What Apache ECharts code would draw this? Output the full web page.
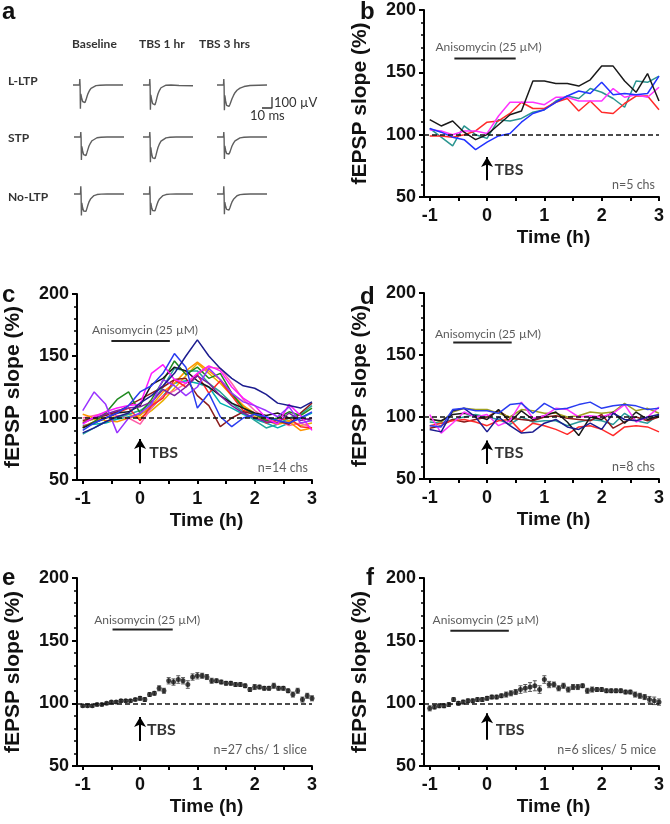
<!DOCTYPE html>
<html>
<head>
<meta charset="utf-8">
<script src="https://cdn.jsdelivr.net/npm/echarts@6/dist/echarts.min.js"></script>
<style>
  html, body { margin: 0; padding: 0; background: #fff; }
  #chart { width: 670px; height: 824px; }
</style>
</head>
<body>
<div id="chart"></div>
<script>
// ---- sampling grids ----
const T_20 = [-1, -0.8, -0.6, -0.4, -0.2, 0, 0.2, 0.4, 0.6, 0.8, 1, 1.2, 1.4, 1.6, 1.8, 2, 2.2, 2.4, 2.6, 2.8, 3];
const T_5MIN = [-60, -55, -50, -45, -40, -35, -30, -25, -20, -15, -10, -5, 0, 5, 10, 15, 20, 25, 30, 35, 40, 45, 50, 55, 60,
  65, 70, 75, 80, 85, 90, 95, 100, 105, 110, 115, 120, 125, 130, 135, 140, 145, 150, 155, 160, 165, 170, 175, 180];
const X_LABELS = [-1, 0, 1, 2, 3];
const X_TICKS = [-1, -0.5, 0, 0.5, 1, 1.5, 2, 2.5, 3];

// ---- panel a: example traces, [ms, uV] ----
const TR_LLTP_BASE = [[0,0],[6.5,0],[6.8,55],[7.1,-10],[7.4,-215],[7.8,-80],[8.6,-115],[9.6,-150],[10.8,-166],[12,-160],[13,-135],[14,-105],[15,-78],[16.5,-50],[18,-30],[20,-15],[23,-6],[27,-2],[33,0],[50,0]];
const TR_LLTP_1H = [[0,0],[6.5,0],[6.8,55],[7.1,-10],[7.4,-225],[7.8,-90],[8.6,-130],[9.6,-170],[10.8,-188],[12,-180],[13,-150],[14,-112],[15,-80],[16.5,-48],[18,-25],[20,-10],[23,-2],[28,0],[36,-5],[50,-7]];
const TR_LLTP_3H = [[0,0],[6.5,0],[6.8,55],[7.1,-10],[7.4,-230],[7.8,-95],[8.6,-145],[9.6,-185],[10.8,-200],[12,-195],[13,-175],[14,-150],[15,-125],[16.5,-95],[18,-70],[20,-48],[23,-28],[27,-14],[33,-4],[50,0]];
const TR_STP_BASE = [[0,0],[6.5,0],[6.8,45],[7.1,-10],[7.4,-210],[7.8,-85],[8.6,-125],[9.6,-160],[10.8,-176],[12,-168],[13,-140],[14,-110],[15,-82],[16.5,-55],[18,-34],[20,-18],[23,-7],[27,-2],[33,0],[50,0]];
const TR_STP_1H = [[0,0],[6.5,0],[6.8,45],[7.1,-10],[7.4,-230],[7.8,-95],[8.6,-150],[9.6,-190],[10.8,-205],[12,-195],[13,-165],[14,-128],[15,-95],[16.5,-62],[18,-38],[20,-20],[23,-8],[27,-2],[33,0],[50,0]];
const TR_STP_3H = [[0,0],[6.5,0],[6.8,45],[7.1,-10],[7.4,-200],[7.8,-80],[8.6,-120],[9.6,-150],[10.8,-160],[12,-155],[13,-135],[14,-108],[15,-82],[16.5,-56],[18,-36],[20,-20],[23,-8],[27,-2],[33,0],[50,0]];
const TR_NOLTP_BASE = [[0,0],[6.5,0],[6.8,70],[7.1,-10],[7.4,-195],[7.8,-80],[8.6,-125],[9.6,-155],[10.8,-167],[12,-158],[13,-128],[14,-98],[15,-72],[16.5,-46],[18,-28],[20,-14],[23,-5],[27,-1],[33,0],[50,0]];
const TR_NOLTP_1H = [[0,0],[6.5,0],[6.8,70],[7.1,-10],[7.4,-190],[7.8,-80],[8.6,-120],[9.6,-150],[10.8,-160],[12,-152],[13,-124],[14,-96],[15,-70],[16.5,-45],[18,-27],[20,-14],[23,-5],[27,-1],[33,0],[50,0]];
const TR_NOLTP_3H = [[0,0],[6.5,0],[6.8,70],[7.1,-10],[7.4,-185],[7.8,-75],[8.6,-112],[9.6,-140],[10.8,-150],[12,-145],[13,-122],[14,-96],[15,-72],[16.5,-48],[18,-30],[20,-16],[23,-6],[27,-2],[33,0],[50,0]];
const SCALE_BAR = [[0, 0], [10, 0], [10, 100]];

// ---- panel b: 5 channels ----
const B_BLACK   = [112,107,111,102,96,100,108,116,119,143,143,141,141,139,144,155,155,143,134,149,127];
const B_RED     = [99,99,98,100,103,110,111,117,126,121,121,126,129,119,127,118,117,125,131,131,120];
const B_BLUE    = [105,102,98,96,88,94,99,101,110,117,120,126,131,135,133,142,132,133,132,133,147];
const B_TEAL    = [105,98,91,107,100,97,112,111,113,118,120,127,131,129,137,134,129,122,143,142,147];
const B_MAGENTA = [104,103,100,103,103,101,115,126,126,126,124,130,130,127,127,127,137,130,132,130,138];

// ---- panel c: 14 channels ----
const C_NAVY   = [88,92,97,101,104,112,118,126,136,150,163,150,140,132,126,124,119,112,110,108,113];
const C_BLUE   = [90,96,100,104,110,121,126,136,152,141,108,120,101,93,100,103,101,98,96,100,105];
const C_VIOLET = [106,121,111,88,100,104,111,131,126,118,125,140,131,120,113,110,106,101,109,96,98];
const C_MAG    = [95,101,105,108,110,111,136,143,131,128,136,142,138,125,116,110,100,95,111,102,90];
const C_RED    = [93,97,100,104,108,98,110,116,131,125,135,120,130,118,106,104,96,98,100,93,92];
const C_ORANGE = [103,100,98,97,100,102,110,121,128,138,145,138,131,120,110,101,98,95,97,90,92];
const C_GREEN  = [92,97,104,115,121,104,115,130,146,135,141,132,136,120,108,103,98,100,105,102,108];
const C_TEAL   = [87,92,97,100,103,106,112,125,140,138,138,128,121,112,105,98,92,95,100,103,110];
const C_BLACK  = [92,96,100,104,105,110,127,132,141,138,130,125,118,112,108,104,102,104,100,100,98];
const C_BROWN  = [98,100,102,105,110,115,120,125,131,132,118,110,93,100,105,103,100,98,95,104,112];
const C_PINK   = [100,102,104,102,100,95,108,118,122,128,135,141,140,128,115,106,100,98,94,96,92];
const C_GOLD   = [97,99,100,101,103,100,106,114,124,134,144,136,128,118,110,104,99,96,98,94,96];
const C_CYAN   = [94,95,96,99,101,103,108,118,128,130,128,125,112,108,103,99,96,92,96,100,104];
const C_PURPLE = [96,100,103,106,108,109,113,123,118,125,134,128,118,110,104,100,97,96,104,98,100];

// ---- panel d: 8 channels ----
const D_BLUE    = [93,92,106,107,105,105,103,110,111,103,111,106,107,110,112,107,109,110,109,106,107];
const D_NAVY    = [90,88,105,107,100,88,100,93,87,88,95,98,92,90,95,90,103,98,97,100,102];
const D_RED     = [93,95,97,98,96,93,97,98,88,95,93,90,86,92,93,90,85,92,93,92,88];
const D_MAGENTA = [102,87,95,104,100,102,93,97,112,99,101,107,106,100,101,100,103,110,96,100,108];
const D_OLIVE   = [99,96,104,107,106,106,103,100,106,105,103,103,100,101,104,103,104,111,105,107,103];
const D_BLACK   = [98,97,102,103,101,98,106,96,105,98,101,104,96,85,100,98,104,95,104,98,101];
const D_TEAL    = [96,95,98,100,102,100,98,94,100,96,97,97,93,96,98,97,94,103,97,95,102];
const D_BROWN   = [91,93,98,96,98,100,105,99,98,97,100,101,99,98,97,102,91,96,100,97,100];

// ---- panels e, f: mean and SEM every 5 min ----
const E_MEAN = [98,98,98,99,99,100,101,101,102,102,102,103,104,103,107,108,112,110,118,117,119,118,115,121,122,122,121,118,118,117,116,116,115,115,114,111,113,113,112,112,114,112,112,110,107,110,103,106,104];
const E_SEM  = [1,1,1,1,1,1,1,1,1,1,1,1,1.5,1.5,1.5,1.5,2,2,2.5,2.5,3,2.5,3,2.5,2.5,2,2,2,1.5,1.5,1.5,1.5,1.5,1.5,1.5,1.5,2,1.5,1.5,1.5,2,1.5,1.5,1.5,2,2,2,2,2];
const F_MEAN = [96,97,98,98,99,103,100,101,102,102,103,103,104,105,105,106,107,108,109,111,112,113,114,111,119,115,115,112,114,111,113,113,114,110,111,111,111,110,110,110,110,109,109,107,106,105,103,102,101];
const F_SEM  = [2,1.5,1.5,1.5,1.5,1.5,1.5,1.5,1.5,1.5,1.5,1.5,1.5,1.5,1.5,1.5,2,2,2,3,3,3.5,4,3,3,2.5,2,2,2,2,2,2,1.5,2,2,1.5,1.5,1.5,1.5,1.5,1.5,1.5,1.5,2,2,2,2.5,3,2.5];

const SANS = 'Liberation Sans, Arial, sans-serif';
const SOFT = 'Lato, Open Sans, sans-serif';

const option = { animation: false, grid: [], xAxis: [], yAxis: [], series: [], graphic: [] };

// panel a traces: one small hidden grid per trace
const traces = [
  { data: TR_LLTP_BASE, left: 73, top: 74 }, { data: TR_LLTP_1H, left: 143, top: 74 }, { data: TR_LLTP_3H, left: 217, top: 74 },
  { data: TR_STP_BASE, left: 74, top: 126 }, { data: TR_STP_1H, left: 143, top: 126 }, { data: TR_STP_3H, left: 217, top: 126 },
  { data: TR_NOLTP_BASE, left: 74, top: 183 }, { data: TR_NOLTP_1H, left: 143, top: 183 }, { data: TR_NOLTP_3H, left: 217, top: 183 }
];
traces.forEach(tr => {
  const gi = option.grid.length;
  option.grid.push({ left: tr.left, top: tr.top, width: 50, height: 44 });
  option.xAxis.push({ type: 'value', gridIndex: gi, min: 0, max: 50, show: false });
  option.yAxis.push({ type: 'value', gridIndex: gi, min: -300, max: 100, show: false });
  option.series.push({ type: 'line', xAxisIndex: gi, yAxisIndex: gi, data: tr.data, showSymbol: false, silent: true,
    lineStyle: { color: '#5e5e5e', width: 1.4 } });
});
// scale bar (10 ms / 100 uV)
(function () {
  const gi = option.grid.length;
  option.grid.push({ left: 262, top: 97, width: 10, height: 11 });
  option.xAxis.push({ type: 'value', gridIndex: gi, min: 0, max: 10, show: false });
  option.yAxis.push({ type: 'value', gridIndex: gi, min: 0, max: 100, show: false });
  option.series.push({ type: 'line', xAxisIndex: gi, yAxisIndex: gi, data: SCALE_BAR, showSymbol: false, silent: true,
    clip: false, lineStyle: { color: '#333', width: 1.3 } });
})();

function addPanel(p) {
  const gi = option.grid.length;
  option.grid.push({ left: p.left, top: p.top, width: 235, height: p.height });
  const xi = option.xAxis.length;
  option.xAxis.push({
    type: 'value', gridIndex: gi, min: -1.1, max: 3, position: 'bottom',
    name: 'Time (h)', nameLocation: 'middle', nameGap: 31,
    nameTextStyle: { fontFamily: SANS, fontSize: 19, fontWeight: 'bold', color: '#111', padding: [0, 0, 0, 24] },
    axisLine: { onZero: false, lineStyle: { color: '#000', width: 2 } },
    axisTick: { customValues: X_TICKS, length: 4, lineStyle: { color: '#000', width: 2 } },
    axisLabel: { customValues: X_LABELS, margin: 10, fontFamily: SANS, fontSize: 18, fontWeight: 'bold', color: '#111' },
    splitLine: { show: false }
  });
  const yi = option.yAxis.length;
  option.yAxis.push({
    type: 'value', gridIndex: gi, min: 50, max: 200, interval: 50,
    name: 'fEPSP slope (%)', nameLocation: 'middle', nameGap: 53,
    nameTextStyle: { fontFamily: SANS, fontSize: 21, fontWeight: 'bold', color: '#111' },
    axisLine: { show: true, onZero: false, lineStyle: { color: '#000', width: 2 } },
    axisTick: { show: true, length: 5, lineStyle: { color: '#000', width: 2 } },
    minorTick: { show: true, splitNumber: 5, length: 3, lineStyle: { color: '#000', width: 1.5 } },
    axisLabel: { margin: 8, fontFamily: SANS, fontSize: 18, fontWeight: 'bold', color: '#111' },
    splitLine: { show: false }
  });

  (p.lines || []).forEach(l => {
    option.series.push({ type: 'line', xAxisIndex: xi, yAxisIndex: yi, silent: true, showSymbol: false,
      data: T_20.map((t, i) => [t, l.v[i]]), lineStyle: { color: l.c, width: 1.5 } });
  });

  if (p.mean) {
    option.series.push({
      type: 'custom', xAxisIndex: xi, yAxisIndex: yi, silent: true,
      data: T_5MIN.map((m, i) => [m / 60, p.mean[i] - p.sem[i], p.mean[i] + p.sem[i]]),
      encode: { x: 0, y: [1, 2] },
      renderItem: (params, api) => {
        const a = api.coord([api.value(0), api.value(2)]);
        const b = api.coord([api.value(0), api.value(1)]);
        const st = { stroke: '#555', lineWidth: 1 };
        return { type: 'group', children: [
          { type: 'line', shape: { x1: a[0], y1: a[1], x2: b[0], y2: b[1] }, style: st },
          { type: 'line', shape: { x1: a[0] - 2, y1: a[1], x2: a[0] + 2, y2: a[1] }, style: st },
          { type: 'line', shape: { x1: b[0] - 2, y1: b[1], x2: b[0] + 2, y2: b[1] }, style: st }
        ] };
      }
    });
    option.series.push({ type: 'scatter', xAxisIndex: xi, yAxisIndex: yi, silent: true,
      data: T_5MIN.map((m, i) => [m / 60, p.mean[i]]), symbol: 'circle', symbolSize: 5, itemStyle: { color: '#111' } });
  }

  // drug bar + dashed baseline
  option.series.push({
    type: 'line', xAxisIndex: xi, yAxisIndex: yi, silent: true, showSymbol: false,
    data: [[p.bar[0], p.bar[2]], [p.bar[1], p.bar[2]]], lineStyle: { color: '#222', width: 2 },
    markLine: { silent: true, symbol: 'none', label: { show: false },
      lineStyle: { type: [5, 3], color: '#111', width: 1.5 }, data: [{ yAxis: 100 }] }
  });
  // texts + TBS arrow
  option.series.push({
    type: 'scatter', xAxisIndex: xi, yAxisIndex: yi, silent: true, symbolSize: 0,
    label: { show: true, position: [0, 0], align: 'left', verticalAlign: 'middle', fontFamily: SOFT, fontSize: 12, color: '#333' },
    data: [
      { value: p.drugText, label: { formatter: 'Anisomycin (25 µM)' } },
      { value: p.tbsText, label: { formatter: 'TBS', fontSize: 16, fontWeight: 'bold', color: '#000' } },
      { value: p.nText, label: { formatter: p.n, align: 'right', fontSize: 12.5 } }
    ],
    markLine: { silent: true, symbol: ['none', 'arrow'], symbolSize: [9, 10], label: { show: false },
      lineStyle: { type: 'solid', color: '#000', width: 2 },
      data: [[{ coord: [0, p.arrow[0]] }, { coord: [0, p.arrow[1]] }]] }
  });
}

addPanel({ left: 424, top: 10, height: 187,
  lines: [{ v: B_TEAL, c: '#2a9590' }, { v: B_RED, c: '#ff2a2a' }, { v: B_MAGENTA, c: '#ff33ff' }, { v: B_BLUE, c: '#2233ff' }, { v: B_BLACK, c: '#1a1a1a' }],
  bar: [-0.57, 0.5, 161], drugText: [-0.9, 170], tbsText: [0.13, 71.5], nText: [2.93, 59.5], n: 'n=5 chs', arrow: [63.5, 82] });

addPanel({ left: 77, top: 294, height: 186,
  lines: [
    { v: C_CYAN, c: '#00b0b0' }, { v: C_GOLD, c: '#e8b000' }, { v: C_PINK, c: '#ff5fa8' }, { v: C_TEAL, c: '#26a69a' },
    { v: C_ORANGE, c: '#ff9500' }, { v: C_RED, c: '#ff2626' }, { v: C_BROWN, c: '#8b1c1c' }, { v: C_GREEN, c: '#1f8a1f' },
    { v: C_BLACK, c: '#1a1a1a' }, { v: C_PURPLE, c: '#7a1fa2' }, { v: C_MAG, c: '#ff1aff' }, { v: C_VIOLET, c: '#9933ff' },
    { v: C_BLUE, c: '#2a3cf0' }, { v: C_NAVY, c: '#1c1c8f' }
  ],
  bar: [-0.5, 0.52, 162], drugText: [-0.84, 171], tbsText: [0.16, 71.5], nText: [2.93, 60], n: 'n=14 chs', arrow: [63.5, 83] });

addPanel({ left: 424, top: 293, height: 186,
  lines: [
    { v: D_TEAL, c: '#2a9a9a' }, { v: D_BROWN, c: '#8b1a1a' }, { v: D_RED, c: '#ff2a2a' }, { v: D_OLIVE, c: '#a0a020' },
    { v: D_BLACK, c: '#1a1a1a' }, { v: D_MAGENTA, c: '#ff33ff' }, { v: D_NAVY, c: '#1c1c8f' }, { v: D_BLUE, c: '#2a3cf0' }
  ],
  bar: [-0.59, 0.43, 160], drugText: [-0.91, 167], tbsText: [0.13, 71], nText: [2.93, 60], n: 'n=8 chs', arrow: [62, 81] });

addPanel({ left: 77, top: 578, height: 188, mean: E_MEAN, sem: E_SEM,
  bar: [-0.48, 0.57, 159], drugText: [-0.8, 166], tbsText: [0.12, 78.5], nText: [2.91, 62.5], n: 'n=27 chs/ 1 slice', arrow: [70, 89] });

addPanel({ left: 424, top: 578, height: 188, mean: F_MEAN, sem: F_SEM,
  bar: [-0.64, 0.38, 158], drugText: [-0.95, 166], tbsText: [0.15, 78.5], nText: [2.95, 62.5], n: 'n=6 slices/ 5 mice', arrow: [71, 92] });

// static labels
const letter = (t, x, y) => ({ type: 'text', left: x, top: y, style: { text: t, font: 'bold 24px ' + SANS, fill: '#111' } });
const small = (t, x, y, f) => ({ type: 'text', left: x, top: y, style: { text: t, font: f || 'bold 12px ' + SOFT, fill: '#333' } });
option.graphic = [
  letter('a', 2, 0), letter('b', 360, 0), letter('c', 2, 283), letter('d', 360, 285), letter('e', 2, 566), letter('f', 366, 566),
  small('Baseline', 72, 38), small('TBS 1 hr', 139, 38), small('TBS 3 hrs', 199, 38),
  small('L-LTP', 8, 75), small('STP', 8, 132), small('No-LTP', 8, 191),
  small('100 µV', 274, 96, '13px ' + SOFT), small('10 ms', 250, 109, '13px ' + SOFT)
];

const chart = echarts.init(document.getElementById('chart'), null, { renderer: 'canvas' });
chart.setOption(option);
</script>
</body>
</html>
